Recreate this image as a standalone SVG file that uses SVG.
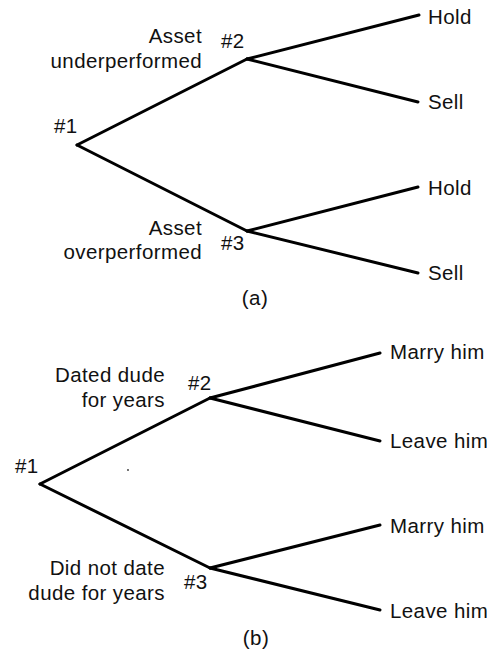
<svg xmlns="http://www.w3.org/2000/svg" width="487" height="655" viewBox="0 0 487 655">
<style>
text{font-family:"Liberation Sans",Arial,sans-serif;font-size:20.5px;fill:#111;letter-spacing:0.4px}
.r{text-anchor:end}
.c{text-anchor:middle}
#connectors line{stroke:#000;stroke-width:3;stroke-linecap:round}
</style>
<rect width="487" height="655" fill="#fff"/>
<g id="connectors">
<line x1="77" y1="145" x2="247" y2="59"/>
<line x1="77" y1="145" x2="247" y2="231"/>
<line x1="247" y1="59" x2="419" y2="15"/>
<line x1="247" y1="59" x2="418" y2="102"/>
<line x1="247" y1="231" x2="418" y2="187"/>
<line x1="247" y1="231" x2="418" y2="273"/>
<line x1="40" y1="484" x2="210" y2="398"/>
<line x1="40" y1="484" x2="210" y2="568"/>
<line x1="210" y1="398" x2="380" y2="353"/>
<line x1="210" y1="398" x2="380" y2="441"/>
<line x1="210" y1="568" x2="380" y2="525"/>
<line x1="210" y1="568" x2="380" y2="610"/>
</g>
<g id="a-n1"><text x="54" y="133">#1</text></g>
<g id="a-n2"><text x="221" y="48">#2</text></g>
<g id="a-n3"><text x="221" y="250">#3</text></g>
<g id="a-under"><text class="r" x="202" y="43">Asset</text><text class="r" x="202" y="68">underperformed</text></g>
<g id="a-over"><text class="r" x="202" y="235">Asset</text><text class="r" x="202" y="259">overperformed</text></g>
<g id="a-hold1"><text x="428" y="24">Hold</text></g>
<g id="a-sell1"><text x="428" y="109">Sell</text></g>
<g id="a-hold2"><text x="428" y="195">Hold</text></g>
<g id="a-sell2"><text x="428" y="280">Sell</text></g>
<g id="a-caption"><text class="c" x="255" y="305">(a)</text></g>
<g id="b-n1"><text x="15" y="473">#1</text></g>
<g id="b-n2"><text x="188" y="390">#2</text></g>
<g id="b-n3"><text x="184" y="589">#3</text></g>
<g id="b-dated"><text class="r" x="165" y="382">Dated dude</text><text class="r" x="165" y="407">for years</text></g>
<g id="b-notdated"><text class="r" x="165" y="575">Did not date</text><text class="r" x="165" y="600">dude for years</text></g>
<g id="b-marry1"><text x="390" y="359">Marry him</text></g>
<g id="b-leave1"><text x="390" y="448">Leave him</text></g>
<g id="b-marry2"><text x="390" y="533">Marry him</text></g>
<g id="b-leave2"><text x="390" y="618">Leave him</text></g>
<g id="b-caption"><text class="c" x="256" y="645">(b)</text></g>
<circle cx="128" cy="470" r="0.9" fill="#333"/>
</svg>
